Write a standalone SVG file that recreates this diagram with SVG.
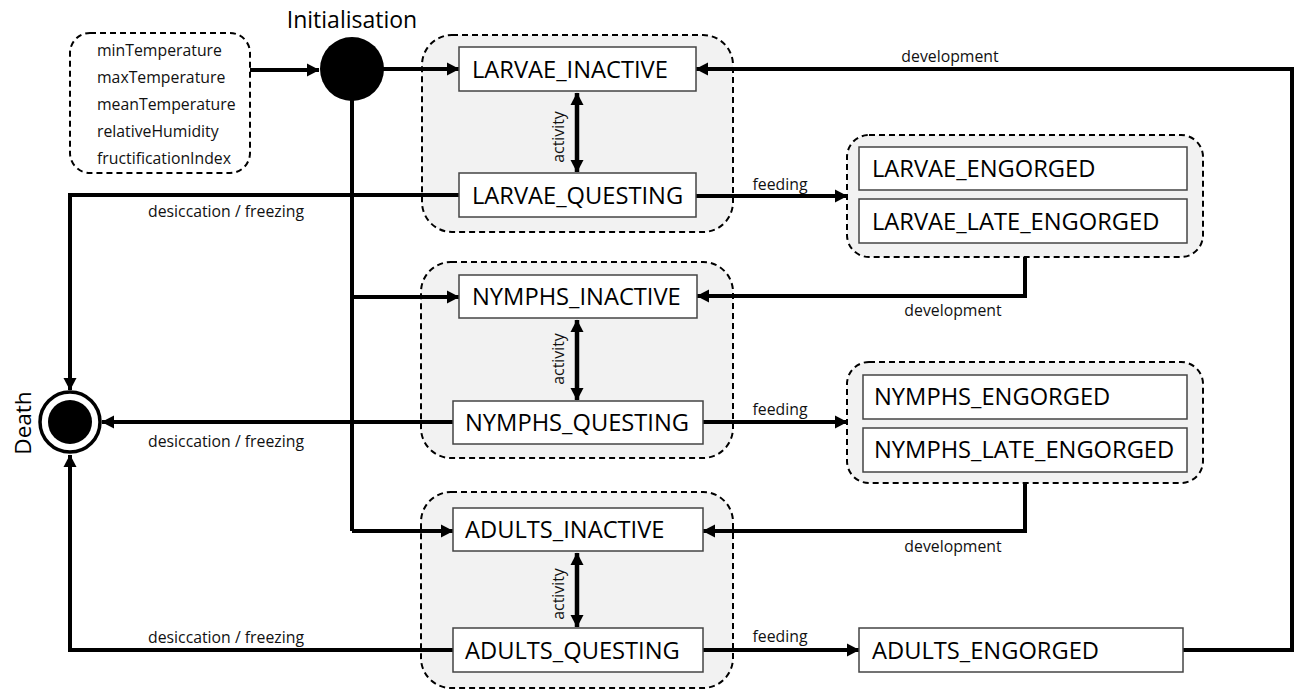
<svg xmlns="http://www.w3.org/2000/svg" width="1296" height="690" viewBox="0 0 1296 690">
<defs>
<marker id="ah" markerUnits="userSpaceOnUse" markerWidth="14" markerHeight="14" refX="12" refY="7" orient="auto-start-reverse" viewBox="0 0 14 14">
<path d="M0,0.5 L12.5,7 L0,13.5 z" fill="#000"/>
</marker>
<style>
.grp{fill:#f2f2f2;stroke:#000;stroke-width:2;stroke-dasharray:6 4}
.inp{fill:#fff;stroke:#000;stroke-width:2;stroke-dasharray:6 4}
.box{fill:#fff;stroke:#444;stroke-width:1.5}
.big{font-family:"Open Sans","Liberation Sans",sans-serif;font-size:23.7px;fill:#000}
.sm{font-family:"Open Sans","Liberation Sans",sans-serif;font-size:15.8px;fill:#111}
.ln{fill:none;stroke:#000;stroke-width:4}
.arr{fill:none;stroke:#000;stroke-width:4;marker-end:url(#ah)}
.dbl{fill:none;stroke:#000;stroke-width:4.5;marker-end:url(#ah);marker-start:url(#ah)}
</style>
</defs>
<rect width="1296" height="690" fill="#fff"/>

<g id="inputs">
<rect class="inp" x="70" y="33" width="180" height="140" rx="20"/>
<text class="sm" x="97" y="56">minTemperature</text>
<text class="sm" x="97" y="83">maxTemperature</text>
<text class="sm" x="97" y="110">meanTemperature</text>
<text class="sm" x="97" y="137">relativeHumidity</text>
<text class="sm" x="97" y="164">fructificationIndex</text>
</g>

<g id="larvae-group">
<rect class="grp" x="422" y="35" width="311" height="197" rx="30"/>
</g>
<g id="nymphs-group">
<rect class="grp" x="421" y="262" width="312" height="196" rx="30"/>
</g>
<g id="adults-group">
<rect class="grp" x="421" y="492" width="312" height="196" rx="30"/>
</g>
<g id="larvae-engorged-group">
<rect class="grp" x="847" y="135" width="356" height="122" rx="22"/>
</g>
<g id="nymphs-engorged-group">
<rect class="grp" x="847" y="362" width="356" height="121" rx="22"/>
</g>

<g id="connectors">
<line class="arr" x1="250" y1="70" x2="319" y2="70"/>
<line class="arr" x1="383" y1="69" x2="459" y2="69"/>
<polyline class="ln" points="352,100 352,531"/>
<line class="arr" x1="352" y1="297" x2="459" y2="297"/>
<line class="arr" x1="352" y1="531" x2="453" y2="531"/>
<line class="dbl" x1="577" y1="93" x2="577" y2="172"/>
<line class="dbl" x1="577" y1="320" x2="577" y2="400"/>
<line class="dbl" x1="577" y1="553" x2="577" y2="627"/>
<line class="arr" x1="696" y1="196" x2="847" y2="196"/>
<line class="arr" x1="703" y1="422" x2="847" y2="422"/>
<line class="arr" x1="703" y1="650" x2="859" y2="650"/>
<polyline class="arr" points="1025,257 1025,296 697,296"/>
<polyline class="arr" points="1025,483 1025,531 703,531"/>
<polyline class="arr" points="1183,650 1292,650 1292,69 696,69"/>
<polyline class="arr" points="459,195 70,195 70,390"/>
<line class="arr" x1="453" y1="422" x2="102" y2="422"/>
<polyline class="arr" points="459,650 70,650 70,455"/>
</g>

<g id="initialisation">
<circle cx="352" cy="69" r="32" fill="#000"/>
<text x="352" y="28" text-anchor="middle" style="font-family:'Open Sans','Liberation Sans',sans-serif;font-size:23px">Initialisation</text>
</g>

<g id="death">
<circle cx="70" cy="422" r="30" fill="#fff" stroke="#000" stroke-width="3.5"/>
<circle cx="70" cy="422" r="22" fill="#000"/>
<text transform="translate(31,423) rotate(-90)" text-anchor="middle" style="font-family:'Open Sans','Liberation Sans',sans-serif;font-size:22.5px">Death</text>
</g>

<g id="LARVAE_INACTIVE">
<rect class="box" x="459" y="47" width="237" height="44"/>
<text class="big" x="472" y="78">LARVAE_INACTIVE</text>
</g>
<g id="LARVAE_QUESTING">
<rect class="box" x="459" y="173" width="237" height="44"/>
<text class="big" x="472" y="204">LARVAE_QUESTING</text>
</g>
<g id="LARVAE_ENGORGED">
<rect class="box" x="859" y="147" width="328" height="43"/>
<text class="big" x="872" y="177">LARVAE_ENGORGED</text>
</g>
<g id="LARVAE_LATE_ENGORGED">
<rect class="box" x="859" y="199" width="328" height="44"/>
<text class="big" x="872" y="230">LARVAE_LATE_ENGORGED</text>
</g>
<g id="NYMPHS_INACTIVE">
<rect class="box" x="459" y="275" width="238" height="43"/>
<text class="big" x="472" y="305">NYMPHS_INACTIVE</text>
</g>
<g id="NYMPHS_QUESTING">
<rect class="box" x="453" y="401" width="250" height="43"/>
<text class="big" x="465" y="431">NYMPHS_QUESTING</text>
</g>
<g id="NYMPHS_ENGORGED">
<rect class="box" x="863" y="375" width="324" height="44"/>
<text class="big" x="874" y="405">NYMPHS_ENGORGED</text>
</g>
<g id="NYMPHS_LATE_ENGORGED">
<rect class="box" x="863" y="428" width="324" height="44"/>
<text class="big" x="874" y="458">NYMPHS_LATE_ENGORGED</text>
</g>
<g id="ADULTS_INACTIVE">
<rect class="box" x="453" y="508" width="250" height="43"/>
<text class="big" x="465" y="538">ADULTS_INACTIVE</text>
</g>
<g id="ADULTS_QUESTING">
<rect class="box" x="453" y="628" width="250" height="44"/>
<text class="big" x="465" y="659">ADULTS_QUESTING</text>
</g>
<g id="ADULTS_ENGORGED">
<rect class="box" x="859" y="628" width="324" height="44"/>
<text class="big" x="872" y="659">ADULTS_ENGORGED</text>
</g>

<g id="labels">
<text class="sm" x="950" y="62" text-anchor="middle">development</text>
<text class="sm" x="953" y="316" text-anchor="middle">development</text>
<text class="sm" x="953" y="552" text-anchor="middle">development</text>
<text class="sm" x="780" y="190" text-anchor="middle">feeding</text>
<text class="sm" x="780" y="415" text-anchor="middle">feeding</text>
<text class="sm" x="780" y="642" text-anchor="middle">feeding</text>
<text class="sm" x="226" y="217" text-anchor="middle">desiccation / freezing</text>
<text class="sm" x="226" y="447" text-anchor="middle">desiccation / freezing</text>
<text class="sm" x="226" y="643" text-anchor="middle">desiccation / freezing</text>
<text class="sm" transform="translate(564,137) rotate(-90)" text-anchor="middle">activity</text>
<text class="sm" transform="translate(564,359) rotate(-90)" text-anchor="middle">activity</text>
<text class="sm" transform="translate(564,594) rotate(-90)" text-anchor="middle">activity</text>
</g>
</svg>
